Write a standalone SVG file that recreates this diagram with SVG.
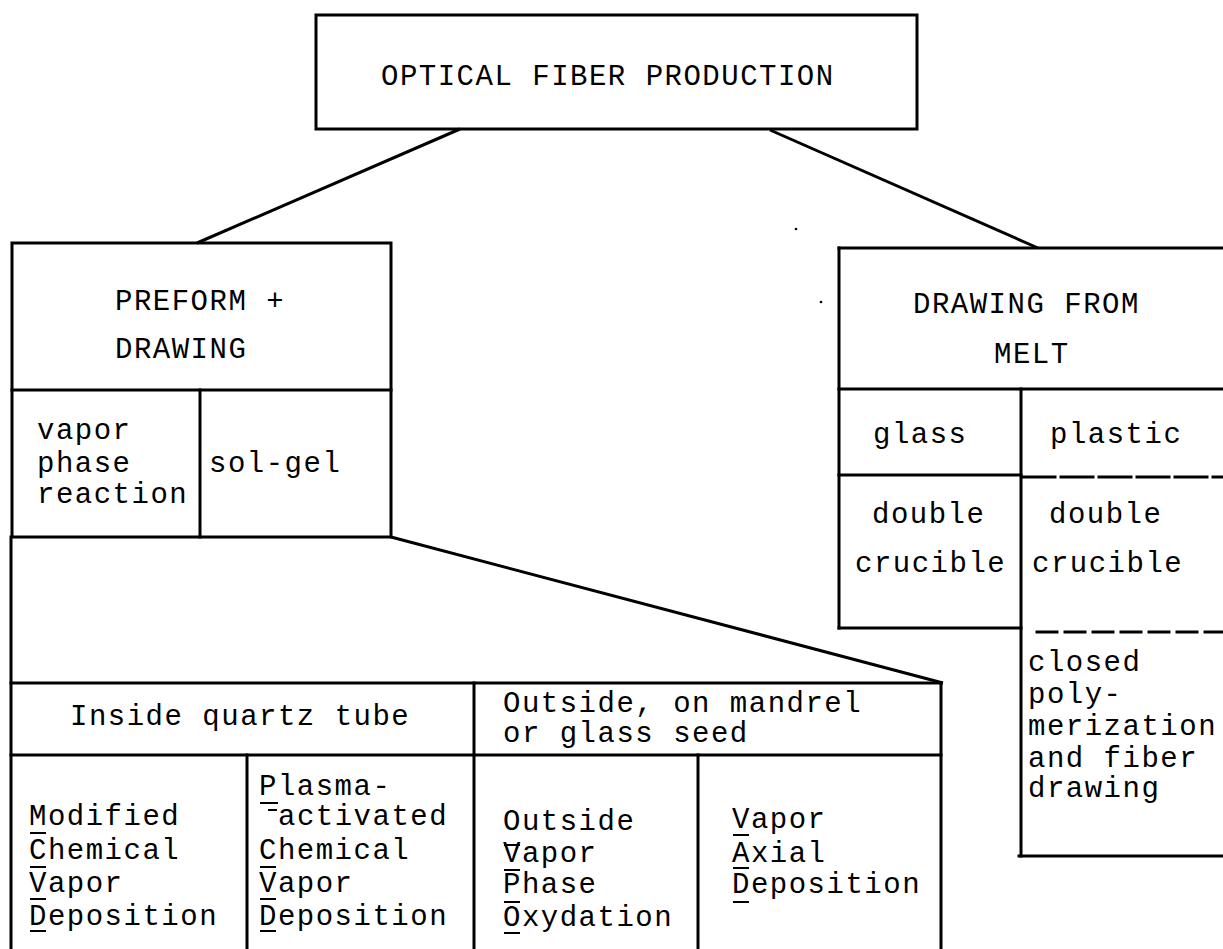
<svg xmlns="http://www.w3.org/2000/svg" width="1223" height="949" viewBox="0 0 1223 949">
<style>
.b{fill:none;stroke:#000;stroke-width:3;stroke-linecap:square}
.c{fill:none;stroke:#000;stroke-width:3}
.u{stroke:#000;stroke-width:2}
.t{font-family:"Liberation Mono","DejaVu Sans Mono",monospace;font-size:29px;letter-spacing:1.5px;fill:#000}
.d1{stroke-dasharray:32 6}
.d2{stroke-dasharray:20 8}
</style>
<rect width="1223" height="949" fill="#fff"/>
<g id="connectors">
<line class="c" x1="460" y1="129" x2="197" y2="243"/>
<line class="c" x1="770" y1="130" x2="1038" y2="248"/>
<line class="c" x1="391" y1="537" x2="943" y2="683"/>
</g>
<g id="n-top">
<rect class="b" x="316" y="15" width="601" height="114"/>
<text class="t" x="381" y="85">OPTICAL FIBER PRODUCTION</text>
</g>
<g id="n-preform">
<rect class="b" x="12" y="243" width="379" height="294"/>
<line class="b" x1="12" y1="390" x2="391" y2="390"/>
<line class="b" x1="200" y1="390" x2="200" y2="537"/>
<text class="t" x="115" y="310">PREFORM +</text>
<text class="t" x="115" y="358">DRAWING</text>
<text class="t" x="37" y="439">vapor</text>
<text class="t" x="37" y="472">phase</text>
<text class="t" x="37" y="503">reaction</text>
<text class="t" x="209" y="472">sol-gel</text>
</g>
<g id="n-methods">
<line class="b" x1="11" y1="537" x2="11" y2="949"/>
<line class="b" x1="11" y1="683" x2="941" y2="683"/>
<line class="b" x1="11" y1="755" x2="941" y2="755"/>
<line class="b" x1="247" y1="755" x2="247" y2="949"/>
<line class="b" x1="474" y1="683" x2="474" y2="949"/>
<line class="b" x1="698" y1="755" x2="698" y2="949"/>
<line class="b" x1="941" y1="683" x2="941" y2="949"/>
<text class="t" x="70" y="725">Inside quartz tube</text>
<text class="t" x="503" y="712">Outside, on mandrel</text>
<text class="t" x="503" y="742">or glass seed</text>
<text class="t" x="29" y="825">Modified</text>
<text class="t" x="29" y="859">Chemical</text>
<text class="t" x="29" y="892">Vapor</text>
<text class="t" x="29" y="925">Deposition</text>
<text class="t" x="259" y="795">Plasma-</text>
<text class="t" x="278" y="825">activated</text>
<text class="t" x="259" y="859">Chemical</text>
<text class="t" x="259" y="892">Vapor</text>
<text class="t" x="259" y="925">Deposition</text>
<text class="t" x="503" y="830">Outside</text>
<text class="t" x="503" y="862">Vapor</text>
<text class="t" x="503" y="893">Phase</text>
<text class="t" x="503" y="926">Oxydation</text>
<text class="t" x="732" y="828">Vapor</text>
<text class="t" x="732" y="862">Axial</text>
<text class="t" x="732" y="893">Deposition</text>
<g id="underlines">
<line class="u" x1="30" y1="833" x2="46" y2="833"/>
<line class="u" x1="30" y1="867" x2="46" y2="867"/>
<line class="u" x1="30" y1="899" x2="46" y2="899"/>
<line class="u" x1="30" y1="931" x2="46" y2="931"/>
<line class="u" x1="260" y1="803" x2="278" y2="803"/>
<line class="u" x1="268" y1="810" x2="277" y2="810"/>
<line class="u" x1="260" y1="867" x2="276" y2="867"/>
<line class="u" x1="260" y1="899" x2="276" y2="899"/>
<line class="u" x1="260" y1="931" x2="276" y2="931"/>
<line class="u" x1="504" y1="845" x2="520" y2="845"/>
<line class="u" x1="504" y1="870" x2="520" y2="870"/>
<line class="u" x1="504" y1="902" x2="520" y2="902"/>
<line class="u" x1="504" y1="933" x2="520" y2="933"/>
<line class="u" x1="733" y1="835" x2="749" y2="835"/>
<line class="u" x1="733" y1="868" x2="749" y2="868"/>
<line class="u" x1="733" y1="902" x2="749" y2="902"/>
</g>
</g>
<g id="n-melt">
<line class="b" x1="839" y1="248" x2="1223" y2="248"/>
<line class="b" x1="839" y1="248" x2="839" y2="628"/>
<line class="b" x1="839" y1="389" x2="1223" y2="389"/>
<line class="b" x1="1021" y1="389" x2="1021" y2="856"/>
<line class="b" x1="839" y1="475" x2="1021" y2="475"/>
<line class="b d1" x1="1023" y1="477" x2="1223" y2="477"/>
<line class="b" x1="839" y1="628" x2="1021" y2="628"/>
<line class="b d2" x1="1037" y1="632" x2="1223" y2="632"/>
<line class="b" x1="1019" y1="856" x2="1223" y2="856"/>
<text class="t" x="913" y="313">DRAWING FROM</text>
<text class="t" x="994" y="363">MELT</text>
<text class="t" x="873" y="443">glass</text>
<text class="t" x="1050" y="443">plastic</text>
<text class="t" x="872" y="523">double</text>
<text class="t" x="855" y="572">crucible</text>
<text class="t" x="1049" y="523">double</text>
<text class="t" x="1032" y="572">crucible</text>
<text class="t" x="1028" y="671">closed</text>
<text class="t" x="1028" y="703">poly-</text>
<text class="t" x="1028" y="735">merization</text>
<text class="t" x="1028" y="767">and fiber</text>
<text class="t" x="1028" y="797">drawing</text>
</g>
<circle cx="796" cy="229" r="1.3" fill="#000"/>
<circle cx="821" cy="302" r="1.3" fill="#000"/>
</svg>
